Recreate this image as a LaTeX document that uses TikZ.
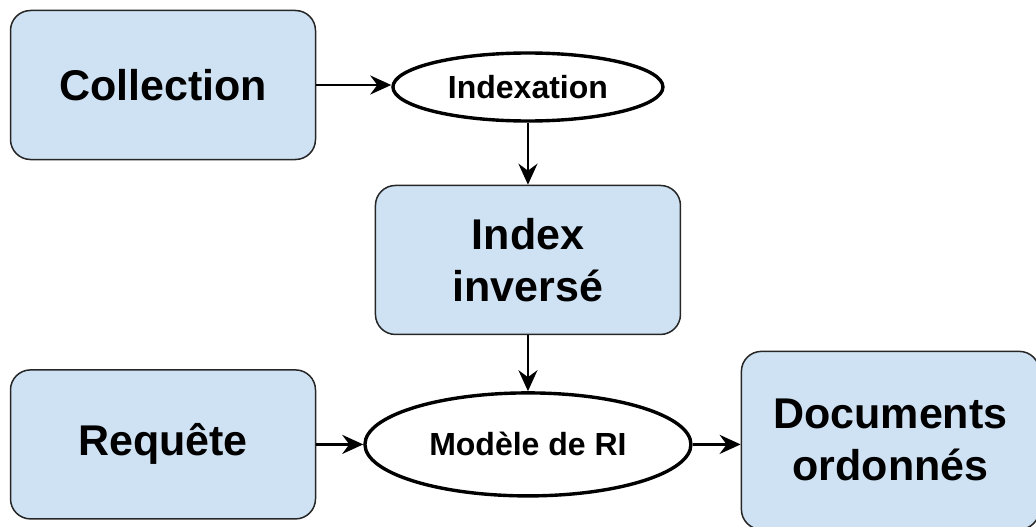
\documentclass[tikz,border=0pt]{standalone}
\usepackage{fontspec}
\setmainfont{Liberation Sans}
\usetikzlibrary{positioning,arrows.meta,shapes}
\definecolor{boxblue}{HTML}{CFE2F3}
\tikzset{
	bigbox/.style={draw=black!85, line width=1.5pt, fill=boxblue, rectangle, rounded corners=20pt,
		minimum width=305pt, minimum height=149pt, font=\fontsize{43}{52}\selectfont\bfseries},
	process/.style={draw, ellipse, line width=3.4pt, fill=white, inner sep=0pt,
		font=\fontsize{32}{38}\selectfont\bfseries},
	link/.style={draw=black, line width=2.8pt, -{Stealth[length=21pt,width=19pt,inset=7pt]}},
}

\begin{document}
\begin{tikzpicture}[every text node part/.style={align=center}, x=1pt, y=1pt]
			\useasboundingbox (0,0) rectangle (1036,-527);
			\node[bigbox] (collection) at (163,-85) {Collection};
			\node[process, minimum width=270pt, minimum height=68pt, right=75pt of collection, yshift=-2pt] (indexation) {Indexation};
			\node[bigbox, below=62pt of indexation] (inverse) {Index\\inversé};
			\node[process, minimum width=326pt, minimum height=103pt, below=56pt of inverse] (modele) {Modèle de RI};
			\node[bigbox, left=47pt of modele] (requete) {Requête};
			\node[bigbox, minimum width=298pt, minimum height=178pt, right=48pt of modele, yshift=4pt] (docs) {Documents\\ordonnés};

			\path (collection.east) edge[link] (collection.east -| indexation.west);
			\path (indexation) edge[link] (inverse);
			\path (inverse) edge[link] (modele);
			\path (requete) edge[link] (modele);
			\path (modele) edge[link] (modele -| docs.west);
		\end{tikzpicture}
\end{document}
